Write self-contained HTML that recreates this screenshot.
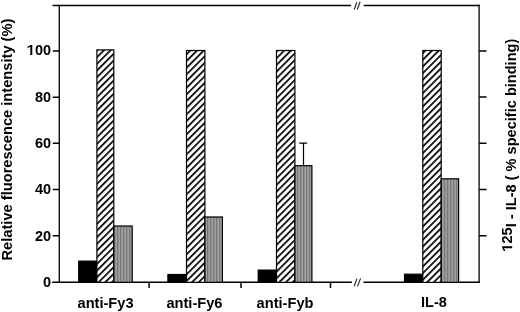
<!DOCTYPE html>
<html><head><meta charset="utf-8"><style>
html,body{margin:0;padding:0;background:#fff;width:520px;height:312px;overflow:hidden}
svg{display:block;filter:grayscale(1)}
text{font-family:"Liberation Sans",sans-serif;font-weight:bold;fill:#000}
</style></head><body>
<svg width="520" height="312" viewBox="0 0 520 312">
<defs>
<pattern id="h1" patternUnits="userSpaceOnUse" x="-0.284" width="4.7143" height="10" patternTransform="rotate(45)">
<rect width="4.7143" height="10" fill="#fff"/><rect width="1.7" height="10" fill="#000"/>
</pattern>
<pattern id="h2" patternUnits="userSpaceOnUse" x="-0.214" width="4.7143" height="10" patternTransform="rotate(45)">
<rect width="4.7143" height="10" fill="#fff"/><rect width="1.7" height="10" fill="#000"/>
</pattern>
<pattern id="h3" patternUnits="userSpaceOnUse" x="0.161" width="4.7143" height="10" patternTransform="rotate(45)">
<rect width="4.7143" height="10" fill="#fff"/><rect width="1.7" height="10" fill="#000"/>
</pattern>
<pattern id="h4" patternUnits="userSpaceOnUse" x="0.988" width="4.7143" height="10" patternTransform="rotate(45)">
<rect width="4.7143" height="10" fill="#fff"/><rect width="1.7" height="10" fill="#000"/>
</pattern>
<pattern id="vstripe" patternUnits="userSpaceOnUse" width="3" height="10">
<rect width="3" height="10" fill="#a0a0a0"/>
<rect x="0" y="0" width="1.3" height="10" fill="#787878"/>
</pattern>
</defs>
<!-- axes -->
<g stroke="#000" stroke-width="1.5" fill="none">
<path d="M52.5 5.45H351M363.8 5.45H479.8"/>
<path d="M52.2 282.35H351.9M363.4 282.35H479.8"/>
<path d="M52.8 50.9H59.3M52.8 97.2H59.3M52.8 143.35H59.3M52.8 189.4H59.3M52.8 235.7H59.3"/>
<path d="M479.1 50.9H486.5M479.1 97.1H486.5M479.1 143.2H486.5M479.1 189.6H486.5M479.1 235.8H486.5"/>
<path d="M149.1 282.3V288M241 282.3V288M330.5 282.3V288"/>
</g>
<g stroke="#000" stroke-width="1.3" fill="none">
<path d="M59.3 4.8V283"/>
<path d="M479.1 4.8V283"/>
</g>
<g stroke="#222" stroke-width="1.1" fill="none">
<path d="M354.3 9.5L356.8 2.1M357.3 9.5L360.1 1.8"/>
<path d="M354.2 286.3L357 278.6M357.5 286.3L360.6 278.4"/>
</g>
<!-- bars -->
<g stroke="#000" stroke-width="1.2">
<rect x="78.7" y="261.1" width="18.2" height="21.25" fill="#000"/>
<rect x="96.9" y="49.9" width="16.9" height="232.45" fill="url(#h1)"/>
<rect x="113.8" y="226.0" width="18.4" height="56.35" fill="url(#vstripe)"/>
<rect x="167.9" y="274.5" width="18.6" height="7.85" fill="#000"/>
<rect x="186.5" y="50.5" width="18.4" height="231.85" fill="url(#h2)"/>
<rect x="204.9" y="217.0" width="17.5" height="65.35" fill="url(#vstripe)"/>
<rect x="258.2" y="270.1" width="18.3" height="12.25" fill="#000"/>
<rect x="276.5" y="50.5" width="18.4" height="231.85" fill="url(#h3)"/>
<rect x="294.9" y="165.7" width="17.0" height="116.65" fill="url(#vstripe)"/>
<rect x="404.5" y="274.2" width="18.3" height="8.15" fill="#000"/>
<rect x="422.8" y="50.5" width="18.4" height="231.85" fill="url(#h4)"/>
<rect x="441.2" y="178.8" width="17.4" height="103.55" fill="url(#vstripe)"/>
</g>
<g stroke="#000" stroke-width="1.2">
<path d="M303.5 165.7V143.3M299.2 143.2H307.2"/>
</g>
<!-- tick labels -->
<g font-size="14.5" text-anchor="end">
<text x="51.1" y="55.35">00</text>
<path transform="translate(26.908 55) scale(0.007080 -0.007080)" d="M478 0V1170L100 950V1180L493 1409H759V0Z"/>
<text x="51.1" y="102">80</text>
<text x="51.1" y="148">60</text>
<text x="51.1" y="194.25">40</text>
<text x="51.1" y="240.6">20</text>
<text x="51.1" y="286.6">0</text>
</g>
<!-- category labels -->
<g font-size="14.63">
<text x="77.5" y="307.6">anti-Fy3</text>
<text x="166.4" y="307.6">anti-Fy6</text>
<text x="256.6" y="307.6">anti-Fyb</text>
<text x="421" y="307.4" font-size="14.5">IL-8</text>
</g>
<!-- axis titles -->
<text font-size="14.66" transform="translate(12.3 260.5) rotate(-90)">Relative fluorescence intensity (%)</text>
<g transform="translate(512.2 251.6) rotate(-90)"><path transform="scale(0.007080 -0.007080)" d="M478 0V1170L100 950V1180L493 1409H759V0Z"/><text font-size="14.5" x="8.064">25</text></g>
<text font-size="14.57" transform="translate(515.8 227.2) rotate(-90)">I - IL-8 ( % specific binding)</text>
</svg>
</body></html>
